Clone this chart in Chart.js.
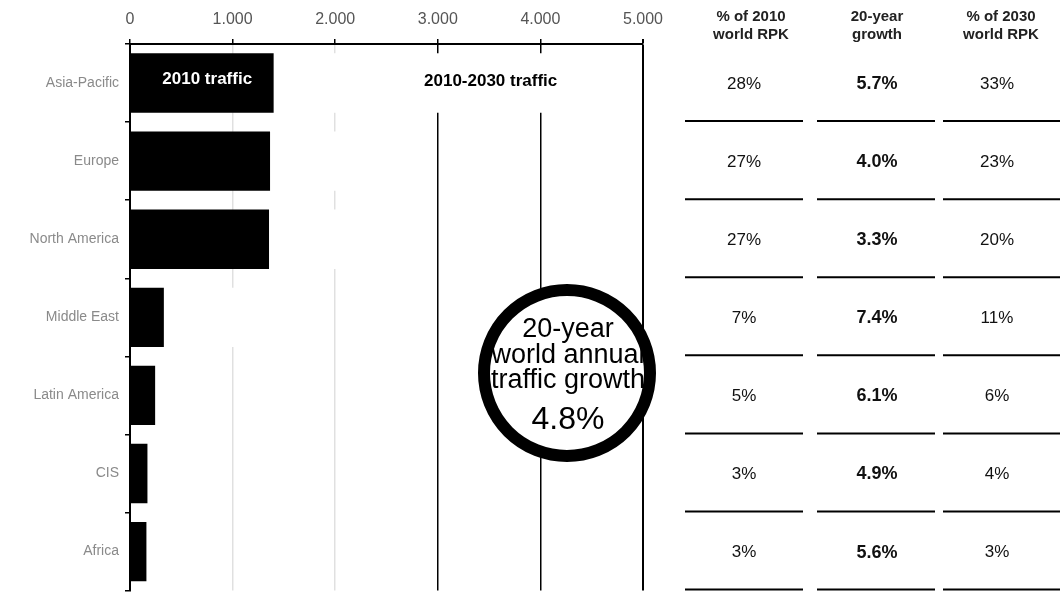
<!DOCTYPE html>
<html>
<head>
<meta charset="utf-8">
<script src="https://cdn.jsdelivr.net/npm/chart.js@4.4.1/dist/chart.umd.min.js"></script>
<style>
  html, body { margin: 0; padding: 0; background: #fff; }
  #wrap { width: 1060px; height: 605px; position: relative; }
</style>
</head>
<body>
<div id="wrap"><canvas id="c" width="1060" height="605"></canvas></div>
<script>
// ---- data ----
const categories = ['Asia-Pacific', 'Europe', 'North America', 'Middle East', 'Latin America', 'CIS', 'Africa'];
const traffic2010 = [1400, 1365, 1355, 330, 245, 170, 160];          // bn RPK (black bars)
const traffic2010to2030 = [2850, 1550, 1200, 1050, 550, 280, 300];   // added traffic (white bars, invisible in scan)
const share2010 = ['28%', '27%', '27%', '7%', '5%', '3%', '3%'];
const growth20yr = ['5.7%', '4.0%', '3.3%', '7.4%', '6.1%', '4.9%', '5.6%'];
const share2030 = ['33%', '23%', '20%', '11%', '6%', '4%', '3%'];
const xTickValues = [0, 1000, 2000, 3000, 4000, 5000];
const xTickLabels = ['0', '1.000', '2.000', '3.000', '4.000', '5.000'];
const tableHeaders = [['% of 2010', 'world RPK'], ['20-year', 'growth'], ['% of 2030', 'world RPK']];
const tableColumns = [share2010, growth20yr, share2030];
const worldGrowthLines = ['20-year', 'world annual', 'traffic growth'];
const worldGrowthValue = '4.8%';

const FONT = "'Liberation Sans', Arial, Helvetica, sans-serif";

const overlay = {
  id: 'overlay',
  afterDatasetsDraw(chart) {
    const ctx = chart.ctx;
    const ys = chart.scales.y;
    const xs = chart.scales.x;
    ctx.save();
    // bar labels
    const bar0 = chart.getDatasetMeta(0).data[0];
    ctx.textAlign = 'center';
    ctx.textBaseline = 'middle';
    ctx.font = 'bold 17px ' + FONT;
    ctx.fillStyle = '#fff';
    ctx.fillText('2010 traffic', (bar0.x + bar0.base) / 2 + 5, bar0.y - 4);
    ctx.fillStyle = '#000';
    ctx.fillText('2010-2030 traffic', xs.getPixelForValue(3515), bar0.y - 2);

    // table
    const colX = [744, 877, 997];
    const colLine = [[685, 803], [817, 935], [943, 1060]];
    ctx.font = 'bold 15px ' + FONT;
    ctx.fillStyle = '#222';
    tableHeaders.forEach((h, c) => {
      const cx = [751, 877, 1001][c];
      ctx.fillText(h[0], cx, 17);
      ctx.fillText(h[1], cx, 35);
    });
    for (let i = 0; i < categories.length; i++) {
      const yc = ys.getPixelForValue(i);
      tableColumns.forEach((col, c) => {
        ctx.font = (c === 1 ? 'bold 18px ' : '17px ') + FONT;
        ctx.fillStyle = '#111';
        ctx.fillText(col[i], colX[c], yc + 1);
        ctx.strokeStyle = '#000';
        ctx.lineWidth = 2;
        ctx.beginPath();
        ctx.moveTo(colLine[c][0], yc + 38);
        ctx.lineTo(colLine[c][1], yc + 38);
        ctx.stroke();
      });
    }

    // circle annotation
    const cx = 567, cy = 373;
    ctx.beginPath();
    ctx.arc(cx, cy, 83, 0, Math.PI * 2);
    ctx.fillStyle = '#fff';
    ctx.fill();
    ctx.lineWidth = 12;
    ctx.strokeStyle = '#000';
    ctx.stroke();
    ctx.fillStyle = '#000';
    ctx.textBaseline = 'alphabetic';
    ctx.font = '27px ' + FONT;
    ctx.fillText(worldGrowthLines[0], cx + 1, 337);
    ctx.fillText(worldGrowthLines[1], cx + 1, 363);
    ctx.fillText(worldGrowthLines[2], cx + 1, 388);
    ctx.font = '32px ' + FONT;
    ctx.fillText(worldGrowthValue, cx + 1, 429);
    ctx.restore();
  }
};

new Chart(document.getElementById('c'), {
  type: 'bar',
  data: {
    labels: categories,
    datasets: [
      { label: '2010 traffic', data: traffic2010, backgroundColor: '#000', borderWidth: 0,
        barPercentage: 0.76, categoryPercentage: 1 },
      { label: '2010-2030 traffic', data: traffic2010to2030, backgroundColor: '#fff', borderWidth: 0,
        barPercentage: 0.76, categoryPercentage: 1 }
    ]
  },
  options: {
    indexAxis: 'y',
    responsive: false,
    animation: false,
    layout: { padding: { left: 0, right: 417, top: 0, bottom: 9 } },
    plugins: { legend: { display: false }, tooltip: { enabled: false } },
    scales: {
      x: {
        position: 'top',
        stacked: true,
        min: 0, max: 5000,
        afterFit(s) { s.height = 44; },
        afterBuildTicks(s) { s.ticks = xTickValues.map(v => ({ value: v })); },
        ticks: {
          callback: (v, i) => xTickLabels[i],
          font: { family: FONT, size: 16 },
          color: '#555',
          padding: 10
        },
        grid: {
          color: c => {
            const v = c.tick && c.tick.value;
            if (v === 0) return 'transparent';
            if (v === 1000 || v === 2000) return 'rgba(0,0,0,0.12)';
            return '#000';
          },
          lineWidth: c => (c.tick && c.tick.value === 5000) ? 2 : 1.5,
          tickLength: 5,
          tickColor: '#000'
        },
        border: { display: true, color: '#000', width: 2 }
      },
      y: {
        stacked: true,
        afterFit(s) { s.width = 130; },
        ticks: {
          font: { family: FONT, size: 14 },
          color: '#8a8a8a',
          padding: 6
        },
        grid: { drawOnChartArea: false, tickLength: 5, color: '#000', lineWidth: 1.5 },
        border: { display: true, color: '#000', width: 2 }
      }
    }
  },
  plugins: [overlay]
});
</script>
</body>
</html>
